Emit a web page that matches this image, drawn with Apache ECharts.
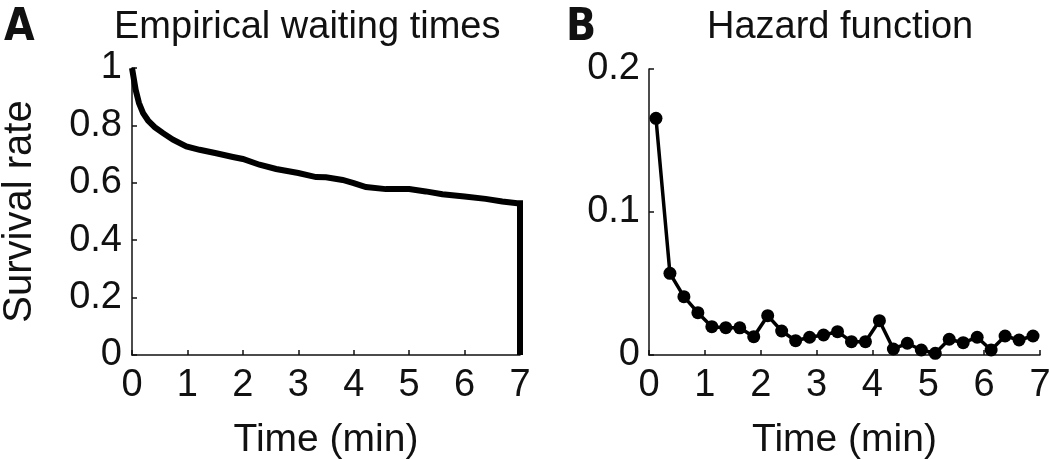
<!DOCTYPE html>
<html>
<head>
<meta charset="utf-8">
<script src="https://cdn.jsdelivr.net/npm/echarts@6/dist/echarts.min.js"></script>
<style>
  html, body { margin: 0; padding: 0; background: #fff; }
  #chart { width: 1050px; height: 459px; }
</style>
</head>
<body>
<div id="chart"></div>
<script>
// Panel A: empirical survival curve (time in min, survival rate)
var survivalTimes = [0, 0.02, 0.066, 0.126, 0.2, 0.29, 0.41, 0.56, 0.74, 0.98,
    1.22, 1.52, 1.82, 2.0, 2.3, 2.6, 3.0, 3.32, 3.5, 3.8, 4.0, 4.22, 4.58,
    5.0, 5.3, 5.6, 6.0, 6.38, 6.68, 6.95, 7.0, 7.0];
var survivalRates = [1.0, 0.994, 0.924, 0.878, 0.843, 0.817, 0.794, 0.773, 0.75, 0.727,
    0.715, 0.703, 0.69, 0.683, 0.663, 0.648, 0.634, 0.62, 0.619, 0.61, 0.599, 0.585, 0.578,
    0.578, 0.57, 0.56, 0.552, 0.544, 0.535, 0.529, 0.529, 0];

// Panel B: hazard per 15 s bin (bin centres in min)
var hazardTimes = [0.125, 0.375, 0.625, 0.875, 1.125, 1.375, 1.625, 1.875, 2.125, 2.375,
    2.625, 2.875, 3.125, 3.375, 3.625, 3.875, 4.125, 4.375, 4.625, 4.875,
    5.125, 5.375, 5.625, 5.875, 6.125, 6.375, 6.625, 6.875];
var hazardValues = [0.1655, 0.0571, 0.0408, 0.0296, 0.0198, 0.0191, 0.019, 0.0128, 0.0275, 0.0168,
    0.010, 0.0124, 0.014, 0.0163, 0.0093, 0.0093, 0.024, 0.0042, 0.0082, 0.0035,
    0.0012, 0.011, 0.0086, 0.0124, 0.0035, 0.0133, 0.0105, 0.0133];

var titles = ['Empirical waiting times', 'Hazard function'];
var panelLetters = ['A', 'B'];
var xName = 'Time (min)';
var yName = 'Survival rate';

var FONT = '"Liberation Sans", Arial, Helvetica, sans-serif';
var LETTER_FONT = '"DejaVu Sans Condensed", "Liberation Sans Narrow", ' + FONT;
var INK = '#111';

function pairs(xs, ys) {
    var out = [];
    for (var i = 0; i < xs.length; i++) {
        out.push([xs[i], ys[i]]);
    }
    return out;
}

function xAxisFor(grid) {
    return {
        type: 'value',
        gridIndex: grid,
        min: 0,
        max: 7,
        interval: 1,
        name: xName,
        nameLocation: 'middle',
        nameGap: 66,
        nameTextStyle: { fontFamily: FONT, fontSize: 39, color: INK },
        axisLine: { show: true, onZero: false, lineStyle: { color: INK, width: 1.5 } },
        axisTick: { show: true, inside: true, length: 5, lineStyle: { color: INK, width: 1.5 } },
        axisLabel: { fontFamily: FONT, fontSize: 38, color: INK, margin: 12 },
        splitLine: { show: false }
    };
}

var chart = echarts.init(document.getElementById('chart'));

chart.setOption({
    backgroundColor: '#fff',
    animation: false,
    textStyle: { fontFamily: FONT },

    title: [
        { text: panelLetters[0], left: 4, top: 7, padding: 0,
          textStyle: { fontFamily: LETTER_FONT, fontSize: 44, fontWeight: 'bold', color: INK } },
        { text: panelLetters[1], left: 566, top: 7, padding: 0,
          textStyle: { fontFamily: LETTER_FONT, fontSize: 44, fontWeight: 'bold', color: INK } },
        { text: titles[0], left: 114, top: 9, padding: 0,
          textStyle: { fontFamily: FONT, fontSize: 38, fontWeight: 'normal', color: INK } },
        { text: titles[1], left: 707, top: 9, padding: 0,
          textStyle: { fontFamily: FONT, fontSize: 38, fontWeight: 'normal', color: INK } }
    ],

    // fixed plot boxes, no auto shrinking for labels
    grid: [
        { left: 132, right: 530, top: 68, bottom: 104, outerBoundsMode: 'none', containLabel: false },
        { left: 649, right: 10, top: 69, bottom: 104, outerBoundsMode: 'none', containLabel: false }
    ],

    xAxis: [xAxisFor(0), xAxisFor(1)],

    yAxis: [{
        type: 'value',
        gridIndex: 0,
        min: 0,
        max: 1,
        interval: 0.2,
        name: yName,
        nameLocation: 'middle',
        nameGap: 92,
        nameTextStyle: { fontFamily: FONT, fontSize: 40, color: INK },
        axisLine: { show: true, lineStyle: { color: INK, width: 1.5 } },
        axisTick: { show: true, inside: true, length: 5, lineStyle: { color: INK, width: 1.5 } },
        axisLabel: { fontFamily: FONT, fontSize: 38, color: INK, margin: 10 },
        splitLine: { show: false }
    }, {
        type: 'value',
        gridIndex: 1,
        min: 0,
        max: 0.2,
        interval: 0.1,
        axisLine: { show: true, lineStyle: { color: INK, width: 1.5 } },
        axisTick: { show: true, inside: true, length: 5, lineStyle: { color: INK, width: 1.5 } },
        axisLabel: { fontFamily: FONT, fontSize: 38, color: INK, margin: 9 },
        splitLine: { show: false }
    }],

    series: [{
        type: 'line',
        xAxisIndex: 0,
        yAxisIndex: 0,
        showSymbol: false,
        clip: false,
        lineStyle: { color: '#000', width: 6, cap: 'butt', join: 'miter' },
        data: pairs(survivalTimes, survivalRates)
    }, {
        type: 'line',
        xAxisIndex: 1,
        yAxisIndex: 1,
        symbol: 'circle',
        symbolSize: 13,
        clip: false,
        itemStyle: { color: '#000' },
        lineStyle: { color: '#000', width: 3.5 },
        data: pairs(hazardTimes, hazardValues)
    }]
});
</script>
</body>
</html>
